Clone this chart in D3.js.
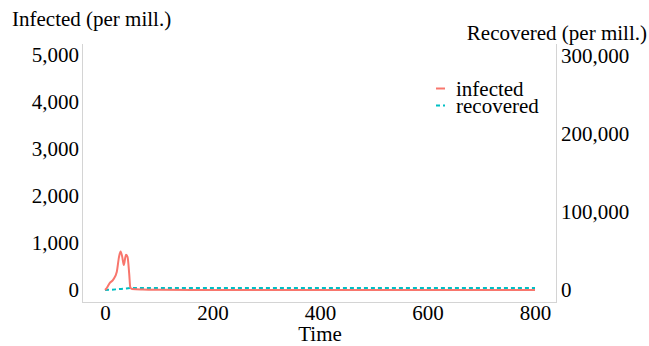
<!DOCTYPE html>
<html>
<head>
  <meta charset="utf-8">
  <title>Infected / Recovered</title>
  <script src="https://d3js.org/d3.v7.min.js"></script>
  <style>
    body { margin: 0; background: #fff; }
    svg, svg text, svg .tick text {
      font-family: "Liberation Serif", "Times New Roman", Times, "DejaVu Serif", serif !important;
      fill: #000;
    }
    .frame { stroke: #d4d4d4; stroke-width: 1; }
  </style>
</head>
<body>
<div id="chart"></div>
<script>
  // infected series (per million)
  const infTime = [0, 2, 9, 15, 22, 26, 29, 32, 35, 39, 42, 45, 47, 50, 70, 100, 200, 400, 600, 800]
  const infValue = [0, 20, 150, 215, 390, 700, 820, 710, 530, 750, 700, 350, 60, 20, 10, 5, 0, 0, 0, 0]

  // recovered series (per million)
  const recTime = [0, 10, 20, 30, 40, 47, 60, 200, 400, 600, 800]
  const recValue = [0, 300, 800, 1400, 2000, 2500, 2600, 2600, 2600, 2600, 2600]

  const xTicks = [0, 200, 400, 600, 800]
  const leftTicks = [0, 1000, 2000, 3000, 4000, 5000]
  const rightTicks = [0, 100000, 200000, 300000]

  const seriesNames = ['infected', 'recovered']
  const colors = ['#F8766D', '#00BFC4']

  const W = 649, H = 346
  const frame = { left: 82, right: 556, top: 44, bottom: 302 }
  const serif = '"Liberation Serif", "Times New Roman", Times, serif'

  const svg = d3.select('#chart').append('svg')
    .attr('width', W)
    .attr('height', H)
    .attr('font-family', serif)

  const x = d3.scaleLinear().domain([0, 800]).range([105, 535])
  const yL = d3.scaleLinear().domain([0, 5000]).range([290, 55])
  const yR = d3.scaleLinear().domain([0, 300000]).range([290, 56])

  const fmt = d3.format(',')

  //frame lines
  svg.append('line').attr('class', 'frame')
    .attr('x1', frame.left + 0.5).attr('x2', frame.left + 0.5)
    .attr('y1', frame.top).attr('y2', frame.bottom)
  svg.append('line').attr('class', 'frame')
    .attr('x1', frame.right + 0.5).attr('x2', frame.right + 0.5)
    .attr('y1', frame.top).attr('y2', frame.bottom)
  svg.append('line').attr('class', 'frame')
    .attr('x1', frame.left).attr('x2', frame.right + 1)
    .attr('y1', frame.bottom + 0.5).attr('y2', frame.bottom + 0.5)

  //axes
  function styleAxis(g) {
    g.select('.domain').remove()
    g.selectAll('.tick line').remove()
    g.attr('font-size', 21).attr('font-family', serif)
  }

  svg.append('g')
    .attr('transform', `translate(${frame.left},0)`)
    .call(d3.axisLeft(yL).tickValues(leftTicks).tickFormat(fmt).tickSize(0).tickPadding(3))
    .call(styleAxis)

  svg.append('g')
    .attr('transform', `translate(${frame.right},0)`)
    .call(d3.axisRight(yR).tickValues(rightTicks).tickFormat(fmt).tickSize(0).tickPadding(5))
    .call(styleAxis)

  svg.append('g')
    .attr('transform', `translate(0,${frame.bottom})`)
    .call(d3.axisBottom(x).tickValues(xTicks).tickFormat(d3.format('d')).tickSize(0).tickPadding(3))
    .call(styleAxis)

  //titles
  svg.append('text')
    .attr('x', 12).attr('y', 26)
    .attr('font-size', 21)
    .text('Infected (per mill.)')

  svg.append('text')
    .attr('x', 647).attr('y', 40)
    .attr('text-anchor', 'end')
    .attr('font-size', 21)
    .text('Recovered (per mill.)')

  svg.append('text')
    .attr('x', 320).attr('y', 341)
    .attr('text-anchor', 'middle')
    .attr('font-size', 21)
    .text('Time')

  //lines
  const infData = infTime.map((t, i) => ({ t: t, v: infValue[i] }))
  const recData = recTime.map((t, i) => ({ t: t, v: recValue[i] }))

  svg.append('path')
    .datum(recData)
    .attr('fill', 'none')
    .attr('stroke', colors[1])
    .attr('stroke-width', 2)
    .attr('stroke-dasharray', '4,3')
    .attr('d', d3.line().x(d => x(d.t)).y(d => yR(d.v)))

  svg.append('path')
    .datum(infData)
    .attr('fill', 'none')
    .attr('stroke', colors[0])
    .attr('stroke-width', 2)
    .attr('stroke-linejoin', 'round')
    .attr('d', d3.line().x(d => x(d.t)).y(d => yL(d.v)).curve(d3.curveMonotoneX))

  //legend
  const legend = svg.append('g').attr('transform', 'translate(436,88)')
  legend.selectAll('line')
    .data(seriesNames)
    .enter()
    .append('line')
    .attr('x1', 0).attr('x2', 9)
    .attr('y1', (d, i) => i * 17 + 0.5).attr('y2', (d, i) => i * 17 + 0.5)
    .attr('stroke', (d, i) => colors[i])
    .attr('stroke-width', 2)
    .attr('stroke-dasharray', (d, i) => i === 1 ? '4,3' : null)
  legend.selectAll('text')
    .data(seriesNames)
    .enter()
    .append('text')
    .attr('x', 20)
    .attr('y', (d, i) => 8 + i * 17)
    .attr('font-size', 21)
    .text(d => d)
</script>
</body>
</html>
